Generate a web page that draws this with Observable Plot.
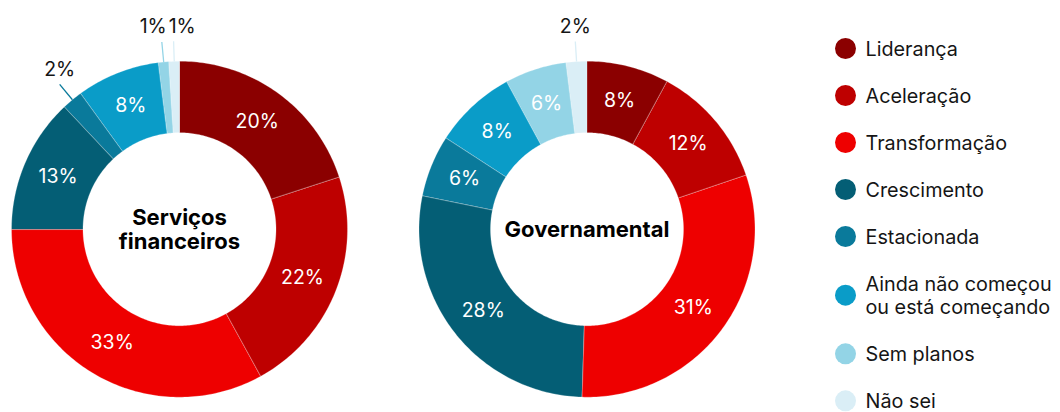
<!DOCTYPE html>
<html>
<head>
<meta charset="utf-8">
<script src="https://cdn.jsdelivr.net/npm/d3@7"></script>
<script src="https://cdn.jsdelivr.net/npm/@observablehq/plot@0.6"></script>
<style>
  html, body { margin: 0; padding: 0; background: #fff; }
  #chart { width: 1060px; height: 412px; overflow: hidden; }
</style>
</head>
<body>
<div id="chart"></div>
<script>
// ---- data ----
const categories = ["Liderança", "Aceleração", "Transformação", "Crescimento", "Estacionada", "Ainda não começou ou está começando", "Sem planos", "Não sei"];
const legendLabels = ["Liderança", "Aceleração", "Transformação", "Crescimento", "Estacionada", "Ainda não começou\nou está começando", "Sem planos", "Não sei"];
const colors = ["#8b0000", "#be0000", "#ee0000", "#045e75", "#0a7a9b", "#0a9cc8", "#93d4e6", "#daeef6"];
const servicosFinanceiros = [20, 22, 33, 13, 2, 8, 1, 1];
const governamental = [8, 12, 31, 28, 6, 8, 6, 2];
const chartTitles = ["Serviços\nfinanceiros", "Governamental"];

// ---- layout ----
const W = 1060, H = 412;
const centersX = [179, 586.5];
const cy = 228.7;
const R = 168, r0 = 96.5;
const FONT = "Inter, 'Noto Sans', sans-serif";
const legendFont = 19.8, legendLH = 1.18;

const series = [servicosFinanceiros, governamental];
const polys = [], inLabels = [], outLabels = [], centers = [];

series.forEach((vals, ci) => {
  const cx = centersX[ci];
  const total = d3.sum(vals);
  let cum = 0;
  const pt = (a, rad) => ({x: cx + rad * Math.sin(a), y: cy - rad * Math.cos(a)});
  vals.forEach((v, i) => {
    const a0 = cum / total * 2 * Math.PI;
    cum += v;
    const a1 = cum / total * 2 * Math.PI;
    const n = Math.max(2, Math.ceil((a1 - a0) * 180 / Math.PI));
    const id = ci + "-" + i;
    for (let k = 0; k <= n; k++) {
      const a = a0 + (a1 - a0) * k / n;
      polys.push({id, cat: categories[i], ...pt(a, R)});
    }
    for (let k = n; k >= 0; k--) {
      const a = a0 + (a1 - a0) * k / n;
      polys.push({id, cat: categories[i], ...pt(a, r0)});
    }
    const am = (a0 + a1) / 2;
    const label = v + "%";
    if (v > 2) {
      inLabels.push({label, ...pt(am, (R + r0) / 2)});
    } else {
      const p1 = pt(am, R), p2 = pt(am, R + 20);
      outLabels.push({label, cat: categories[i], chart: ci, x1: p1.x, y1: p1.y, x2: p2.x, y2: p2.y, lx: p2.x, ly: p2.y - 15});
    }
  });
  centers.push({x: cx, y: cy, text: chartTitles[ci]});
});

// spread overlapping outside labels
const minGap = 29;
d3.groups(outLabels, d => d.chart).forEach(([, labs]) => {
  labs.sort((a, b) => a.lx - b.lx);
  for (let k = 1; k < labs.length; k++) {
    const a = labs[k - 1], b = labs[k];
    if (Math.abs(a.ly - b.ly) < 20 && b.lx - a.lx < minGap) {
      const mid = (a.lx + b.lx) / 2;
      a.lx = mid - minGap / 2;
      b.lx = mid + minGap / 2;
    }
  }
});

// legend rows
const legendRows = [];
let ly = 48;
const half = legendFont * legendLH / 2;
legendLabels.forEach((lab, i) => {
  const lines = lab.split("\n").length;
  if (i > 0) {
    const prevLines = legendLabels[i - 1].split("\n").length;
    ly += 47 + (prevLines - 1) * half + (lines - 1) * half;
  }
  legendRows.push({cat: categories[i], label: lab, y: ly});
});

const chart = Plot.plot({
  width: W,
  height: H,
  margin: 0,
  style: {fontFamily: FONT, background: "#fff"},
  x: {domain: [0, W], axis: null},
  y: {domain: [0, H], reverse: true, axis: null},
  color: {domain: categories, range: colors},
  marks: [
    Plot.line(polys, {x: "x", y: "y", z: "id", fill: "cat", stroke: "#ffffff", strokeWidth: 0.5, strokeOpacity: 0.5, curve: "linear-closed"}),
    Plot.text(inLabels, {x: "x", y: "y", text: "label", fill: "#ffffff", fontSize: 19.5, fontFamily: FONT}),
    Plot.link(outLabels, {x1: "x1", y1: "y1", x2: "x2", y2: "y2", stroke: "cat", strokeWidth: 1.3}),
    Plot.text(outLabels, {x: "lx", y: "ly", text: "label", fill: "#151515", fontSize: 19.5, fontFamily: FONT}),
    Plot.text(centers, {x: "x", y: "y", text: "text", fill: "#000", fontSize: 22, fontWeight: 700, lineHeight: 1.1, fontFamily: FONT}),
    Plot.dot(legendRows, {x: 845, y: "y", r: 10.5, fill: "cat"}),
    Plot.text(legendRows, {x: 865, y: "y", text: "label", textAnchor: "start", fill: "#151515", fontSize: legendFont, lineHeight: legendLH, fontFamily: FONT})
  ]
});
document.getElementById("chart").append(chart);
</script>
</body>
</html>
